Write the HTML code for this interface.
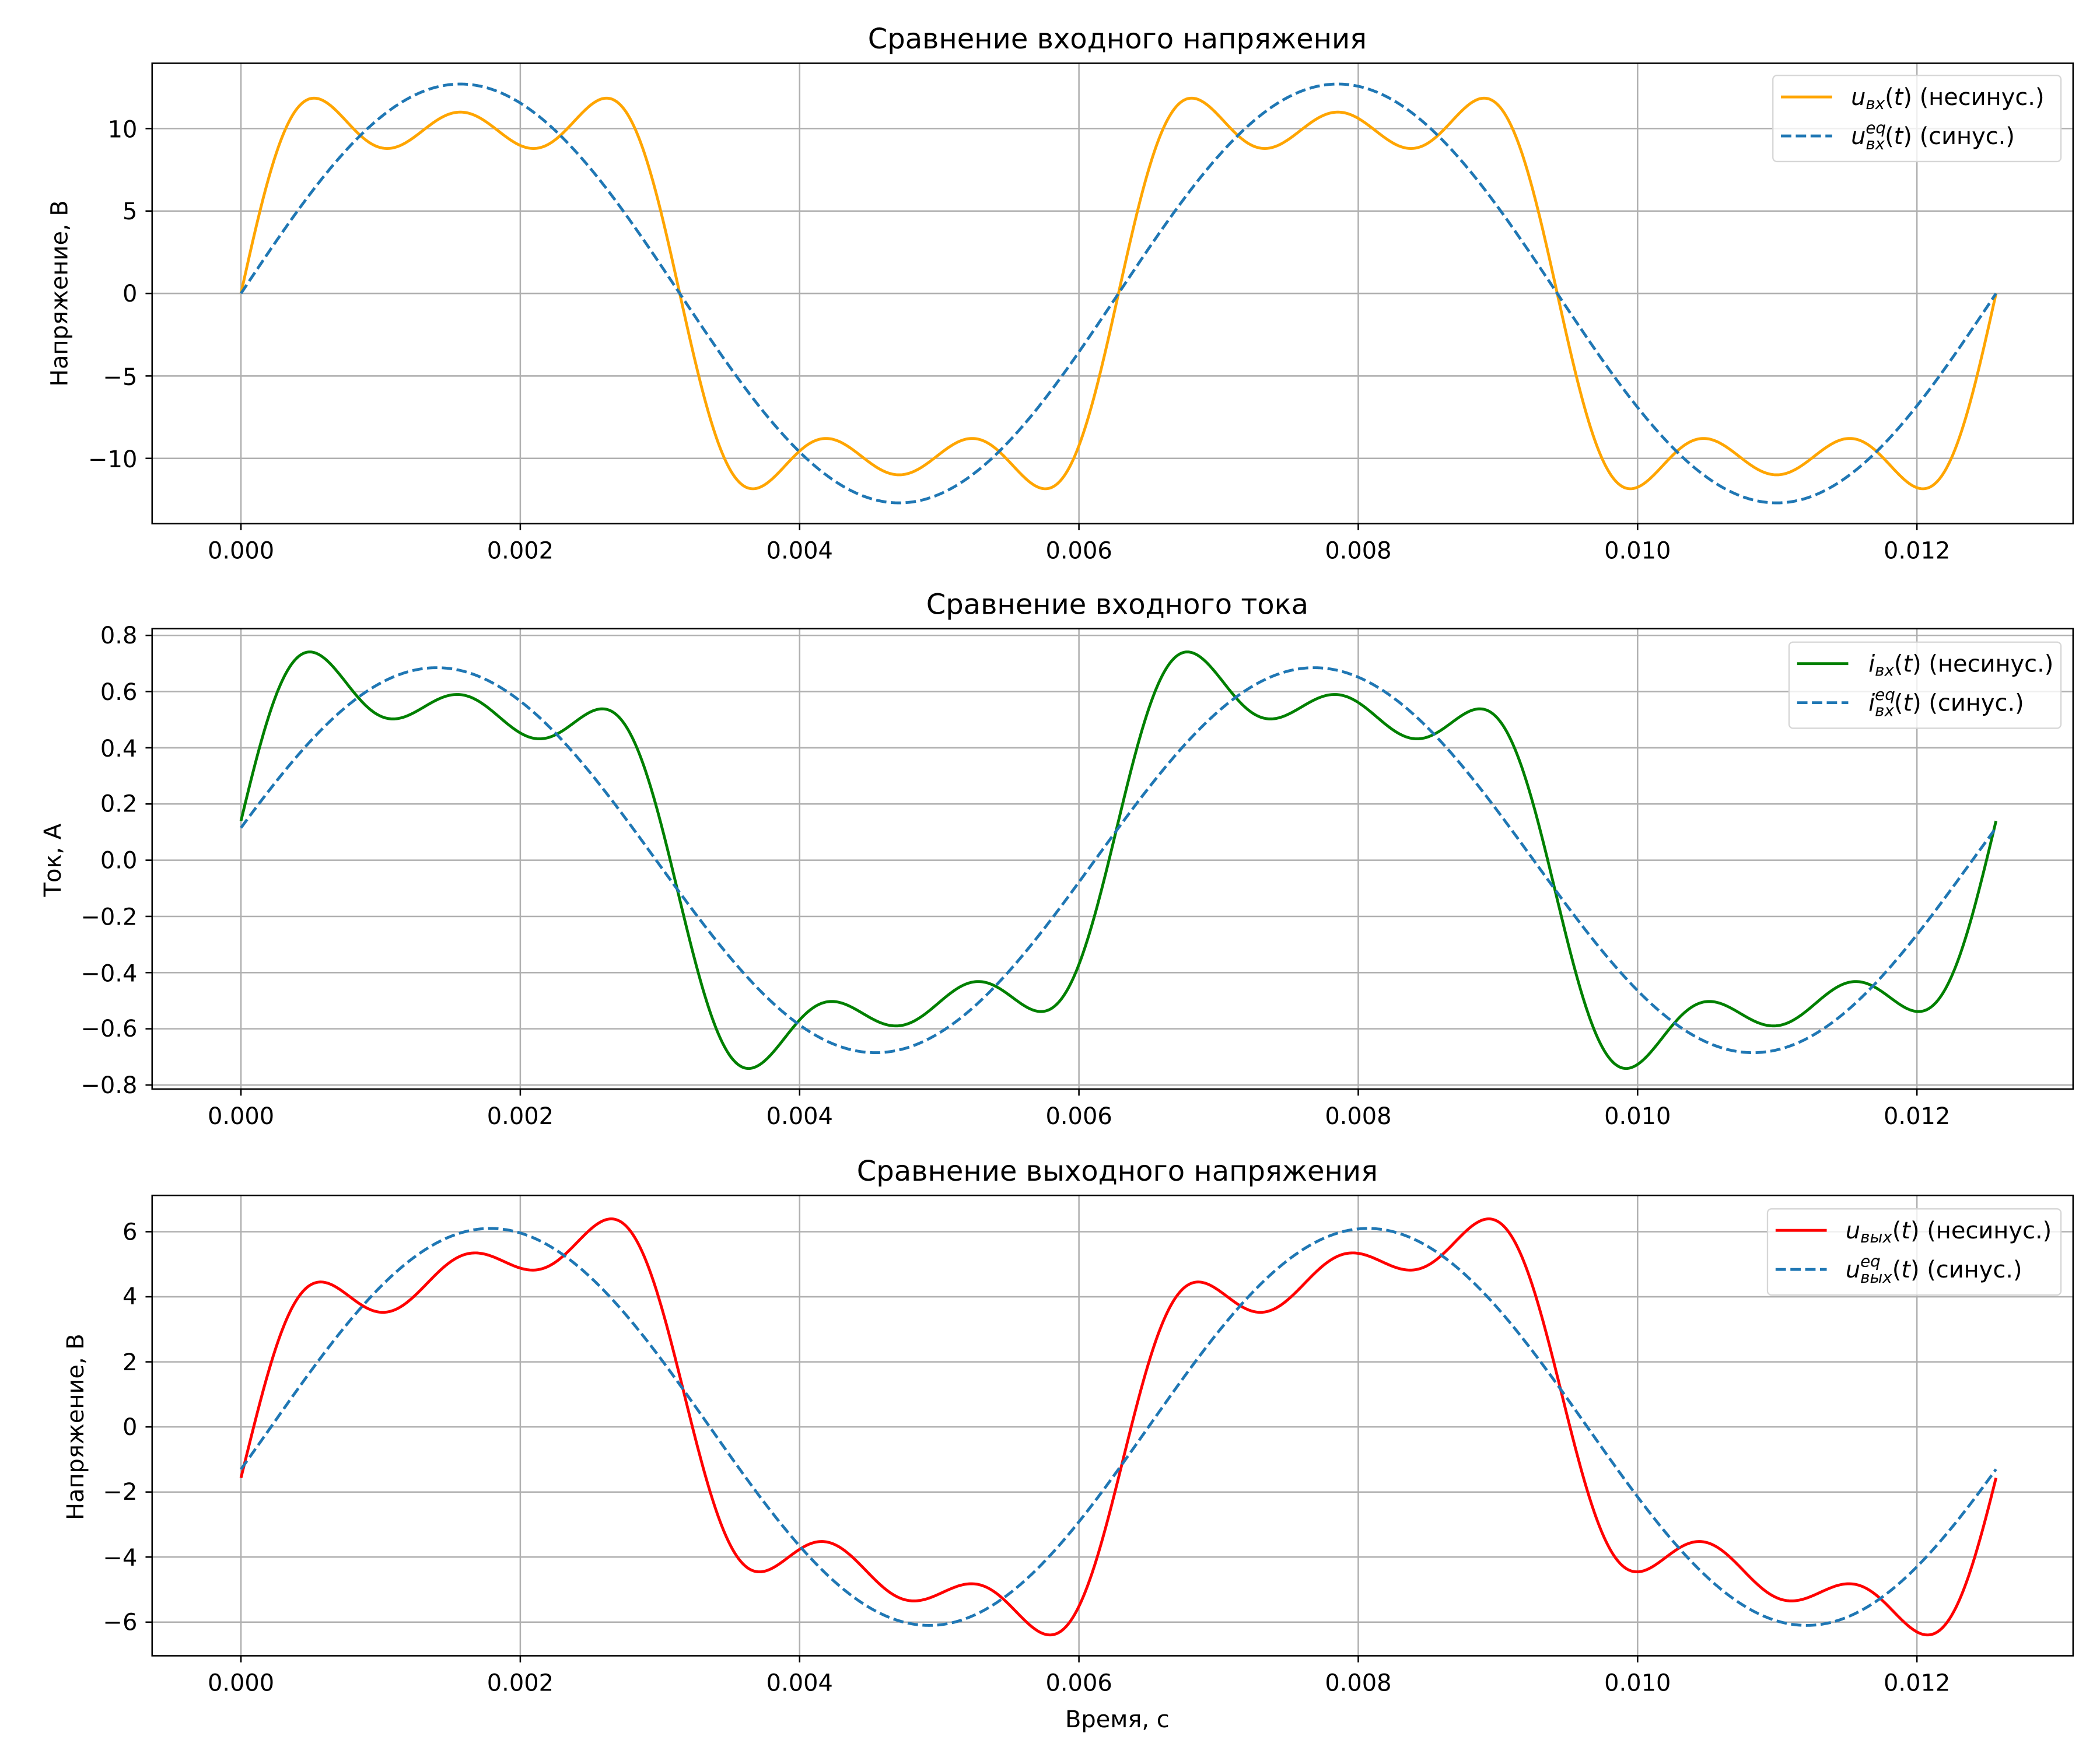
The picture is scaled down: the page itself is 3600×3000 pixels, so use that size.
<!DOCTYPE html>
<html><head><meta charset="utf-8"><style>
html,body{margin:0;padding:0;background:#fff;}
svg{display:block;font-family:"DejaVu Sans","Liberation Sans",sans-serif;}
</style></head><body>
<svg id="s" width="3600" height="3000" viewBox="0 0 1560 1300" xmlns="http://www.w3.org/2000/svg">
<rect width="1560" height="1300" fill="#fff"/>
<g id="grid"></g>
<g id="curves"></g>
<g id="axes" fill="none" stroke="#000" stroke-width="1.1"></g>

<text x="830" y="36" font-size="20.8" text-anchor="middle">Сравнение входного напряжения</text>
<text x="830" y="456" font-size="20.8" text-anchor="middle">Сравнение входного тока</text>
<text x="830" y="877" font-size="20.8" text-anchor="middle">Сравнение выходного напряжения</text>
<text transform="translate(50,218) rotate(-90)" font-size="17.3" text-anchor="middle">Напряжение, В</text>
<text transform="translate(45,639) rotate(-90)" font-size="17.3" text-anchor="middle">Ток, А</text>
<text transform="translate(62,1060) rotate(-90)" font-size="17.3" text-anchor="middle">Напряжение, В</text>
<text x="830" y="1283" font-size="17.3" text-anchor="middle">Время, с</text>

<!-- legends -->
<g font-size="17.3">
<rect x="1317" y="56" width="214" height="64" rx="3" fill="#fff" fill-opacity="0.8" stroke="#d6d6d6" stroke-width="1"/>
<line x1="1323" y1="72" x2="1361" y2="72" stroke="#ffa500" stroke-width="2.1"/>
<line x1="1323" y1="101" x2="1361" y2="101" stroke="#1f77b4" stroke-width="2.1" stroke-dasharray="7.7,3.3"/>
<text x="1375" y="78"><tspan font-style="italic">u</tspan><tspan font-style="italic" font-size="12" dy="3">вх</tspan><tspan dy="-3">(</tspan><tspan font-style="italic">t</tspan>) (несинус.)</text>
<text x="1375" y="107"><tspan font-style="italic">u</tspan><tspan font-style="italic" font-size="12" dy="-8">eq</tspan><tspan font-style="italic" font-size="12" dx="-15" dy="12">вх</tspan><tspan dy="-4">(</tspan><tspan font-style="italic">t</tspan>) (синус.)</text>

<rect x="1329" y="477" width="202" height="64" rx="3" fill="#fff" fill-opacity="0.8" stroke="#d6d6d6" stroke-width="1"/>
<line x1="1335" y1="493" x2="1373" y2="493" stroke="#008000" stroke-width="2.1"/>
<line x1="1335" y1="522" x2="1373" y2="522" stroke="#1f77b4" stroke-width="2.1" stroke-dasharray="7.7,3.3"/>
<text x="1388" y="499"><tspan font-style="italic">i</tspan><tspan font-style="italic" font-size="12" dy="3">вх</tspan><tspan dy="-3">(</tspan><tspan font-style="italic">t</tspan>) (несинус.)</text>
<text x="1388" y="528"><tspan font-style="italic">i</tspan><tspan font-style="italic" font-size="12" dy="-8">eq</tspan><tspan font-style="italic" font-size="12" dx="-15" dy="12">вх</tspan><tspan dy="-4">(</tspan><tspan font-style="italic">t</tspan>) (синус.)</text>

<rect x="1313" y="898" width="218" height="64" rx="3" fill="#fff" fill-opacity="0.8" stroke="#d6d6d6" stroke-width="1"/>
<line x1="1319" y1="914" x2="1357" y2="914" stroke="#ff0000" stroke-width="2.1"/>
<line x1="1319" y1="943" x2="1357" y2="943" stroke="#1f77b4" stroke-width="2.1" stroke-dasharray="7.7,3.3"/>
<text x="1371" y="920"><tspan font-style="italic">u</tspan><tspan font-style="italic" font-size="12" dy="3">вых</tspan><tspan dy="-3">(</tspan><tspan font-style="italic">t</tspan>) (несинус.)</text>
<text x="1371" y="949"><tspan font-style="italic">u</tspan><tspan font-style="italic" font-size="12" dy="-8">eq</tspan><tspan font-style="italic" font-size="12" dx="-15" dy="12">вых</tspan><tspan dy="-4">(</tspan><tspan font-style="italic">t</tspan>) (синус.)</text>
</g>

<!-- static tick labels -->
<g font-size="17.3" text-anchor="middle">
<text x="179" y="415">0.000</text><text x="386.5" y="415">0.002</text><text x="594" y="415">0.004</text><text x="801.5" y="415">0.006</text><text x="1009" y="415">0.008</text><text x="1216.5" y="415">0.010</text><text x="1424" y="415">0.012</text>
<text x="179" y="835">0.000</text><text x="386.5" y="835">0.002</text><text x="594" y="835">0.004</text><text x="801.5" y="835">0.006</text><text x="1009" y="835">0.008</text><text x="1216.5" y="835">0.010</text><text x="1424" y="835">0.012</text>
<text x="179" y="1256">0.000</text><text x="386.5" y="1256">0.002</text><text x="594" y="1256">0.004</text><text x="801.5" y="1256">0.006</text><text x="1009" y="1256">0.008</text><text x="1216.5" y="1256">0.010</text><text x="1424" y="1256">0.012</text>
</g>
<g font-size="17.3" text-anchor="end">
<text x="102" y="102">10</text><text x="102" y="163">5</text><text x="102" y="224">0</text><text x="102" y="286">−5</text><text x="102" y="347">−10</text>
<text x="102" y="478">0.8</text><text x="102" y="520">0.6</text><text x="102" y="562">0.4</text><text x="102" y="603">0.2</text><text x="102" y="645">0.0</text><text x="102" y="687">−0.2</text><text x="102" y="729">−0.4</text><text x="102" y="770">−0.6</text><text x="102" y="812">−0.8</text>
<text x="102" y="921">6</text><text x="102" y="969">4</text><text x="102" y="1018">2</text><text x="102" y="1066">0</text><text x="102" y="1114">−2</text><text x="102" y="1163">−4</text><text x="102" y="1211">−6</text>
</g>
</svg>
<script>
(function(){
var NS="http://www.w3.org/2000/svg";
var L=113,R=1540;
function X(t){return 179+t*103750;}
var plots=[
 {top:47,bot:389,y0:218,k:12.25,yt:[-10,-5,0,5,10],
  f:function(x){return 12.69*(Math.sin(x)+Math.sin(3*x)/3+Math.sin(5*x)/5);},
  g:function(x){return 12.7*Math.sin(x);},c:"#ffa500"},
 {top:467,bot:809,y0:639,k:208.75,yt:[-0.8,-0.6,-0.4,-0.2,0,0.2,0.4,0.6,0.8],
  f:function(x){return 0.69*(Math.sin(x+0.17)+Math.sin(3*x+0.1)/3+Math.sin(5*x)/5);},
  g:function(x){return 0.685*Math.sin(x+0.169);},c:"#008000"},
 {top:888,bot:1230,y0:1060,k:24.17,yt:[-6,-4,-2,0,2,4,6],
  f:function(x){return 6.1*Math.sin(x-0.215)+1.85*Math.sin(3*x-0.05)+1.15*Math.sin(5*x-0.15);},
  g:function(x){return 6.1*Math.sin(x-0.215);},c:"#ff0000"}
];
var grid=document.getElementById("grid"),cur=document.getElementById("curves"),ax=document.getElementById("axes");
function el(p,n,a){var e=document.createElementNS(NS,n);for(var k in a)e.setAttribute(k,a[k]);p.appendChild(e);return e;}
var T=4*Math.PI/1000,N=1500;
plots.forEach(function(p){
 for(var i=0;i<=6;i++){var xx=179+i*207.5;
  el(grid,"line",{x1:xx,y1:p.top,x2:xx,y2:p.bot,stroke:"#b0b0b0","stroke-width":1.1});
  el(ax,"line",{x1:xx,y1:p.bot,x2:xx,y2:p.bot+4.9});}
 p.yt.forEach(function(v){var yy=p.y0-v*p.k;
  el(grid,"line",{x1:L,y1:yy,x2:R,y2:yy,stroke:"#b0b0b0","stroke-width":1.1});
  el(ax,"line",{x1:L-4.9,y1:yy,x2:L,y2:yy});});
 var d1="",d2="";
 for(var i=0;i<=N;i++){var t=T*i/N,x=t*1000;
  d1+=(i?"L":"M")+X(t).toFixed(2)+","+(p.y0-p.f(x)*p.k).toFixed(2);
  d2+=(i?"L":"M")+X(t).toFixed(2)+","+(p.y0-p.g(x)*p.k).toFixed(2);}
 el(cur,"path",{d:d1,fill:"none",stroke:p.c,"stroke-width":2.1});
 el(cur,"path",{d:d2,fill:"none",stroke:"#1f77b4","stroke-width":2.1,"stroke-dasharray":"7.7,3.3"});
 el(ax,"rect",{x:L,y:p.top,width:R-L,height:p.bot-p.top});
});
})();
</script>
</body></html>
